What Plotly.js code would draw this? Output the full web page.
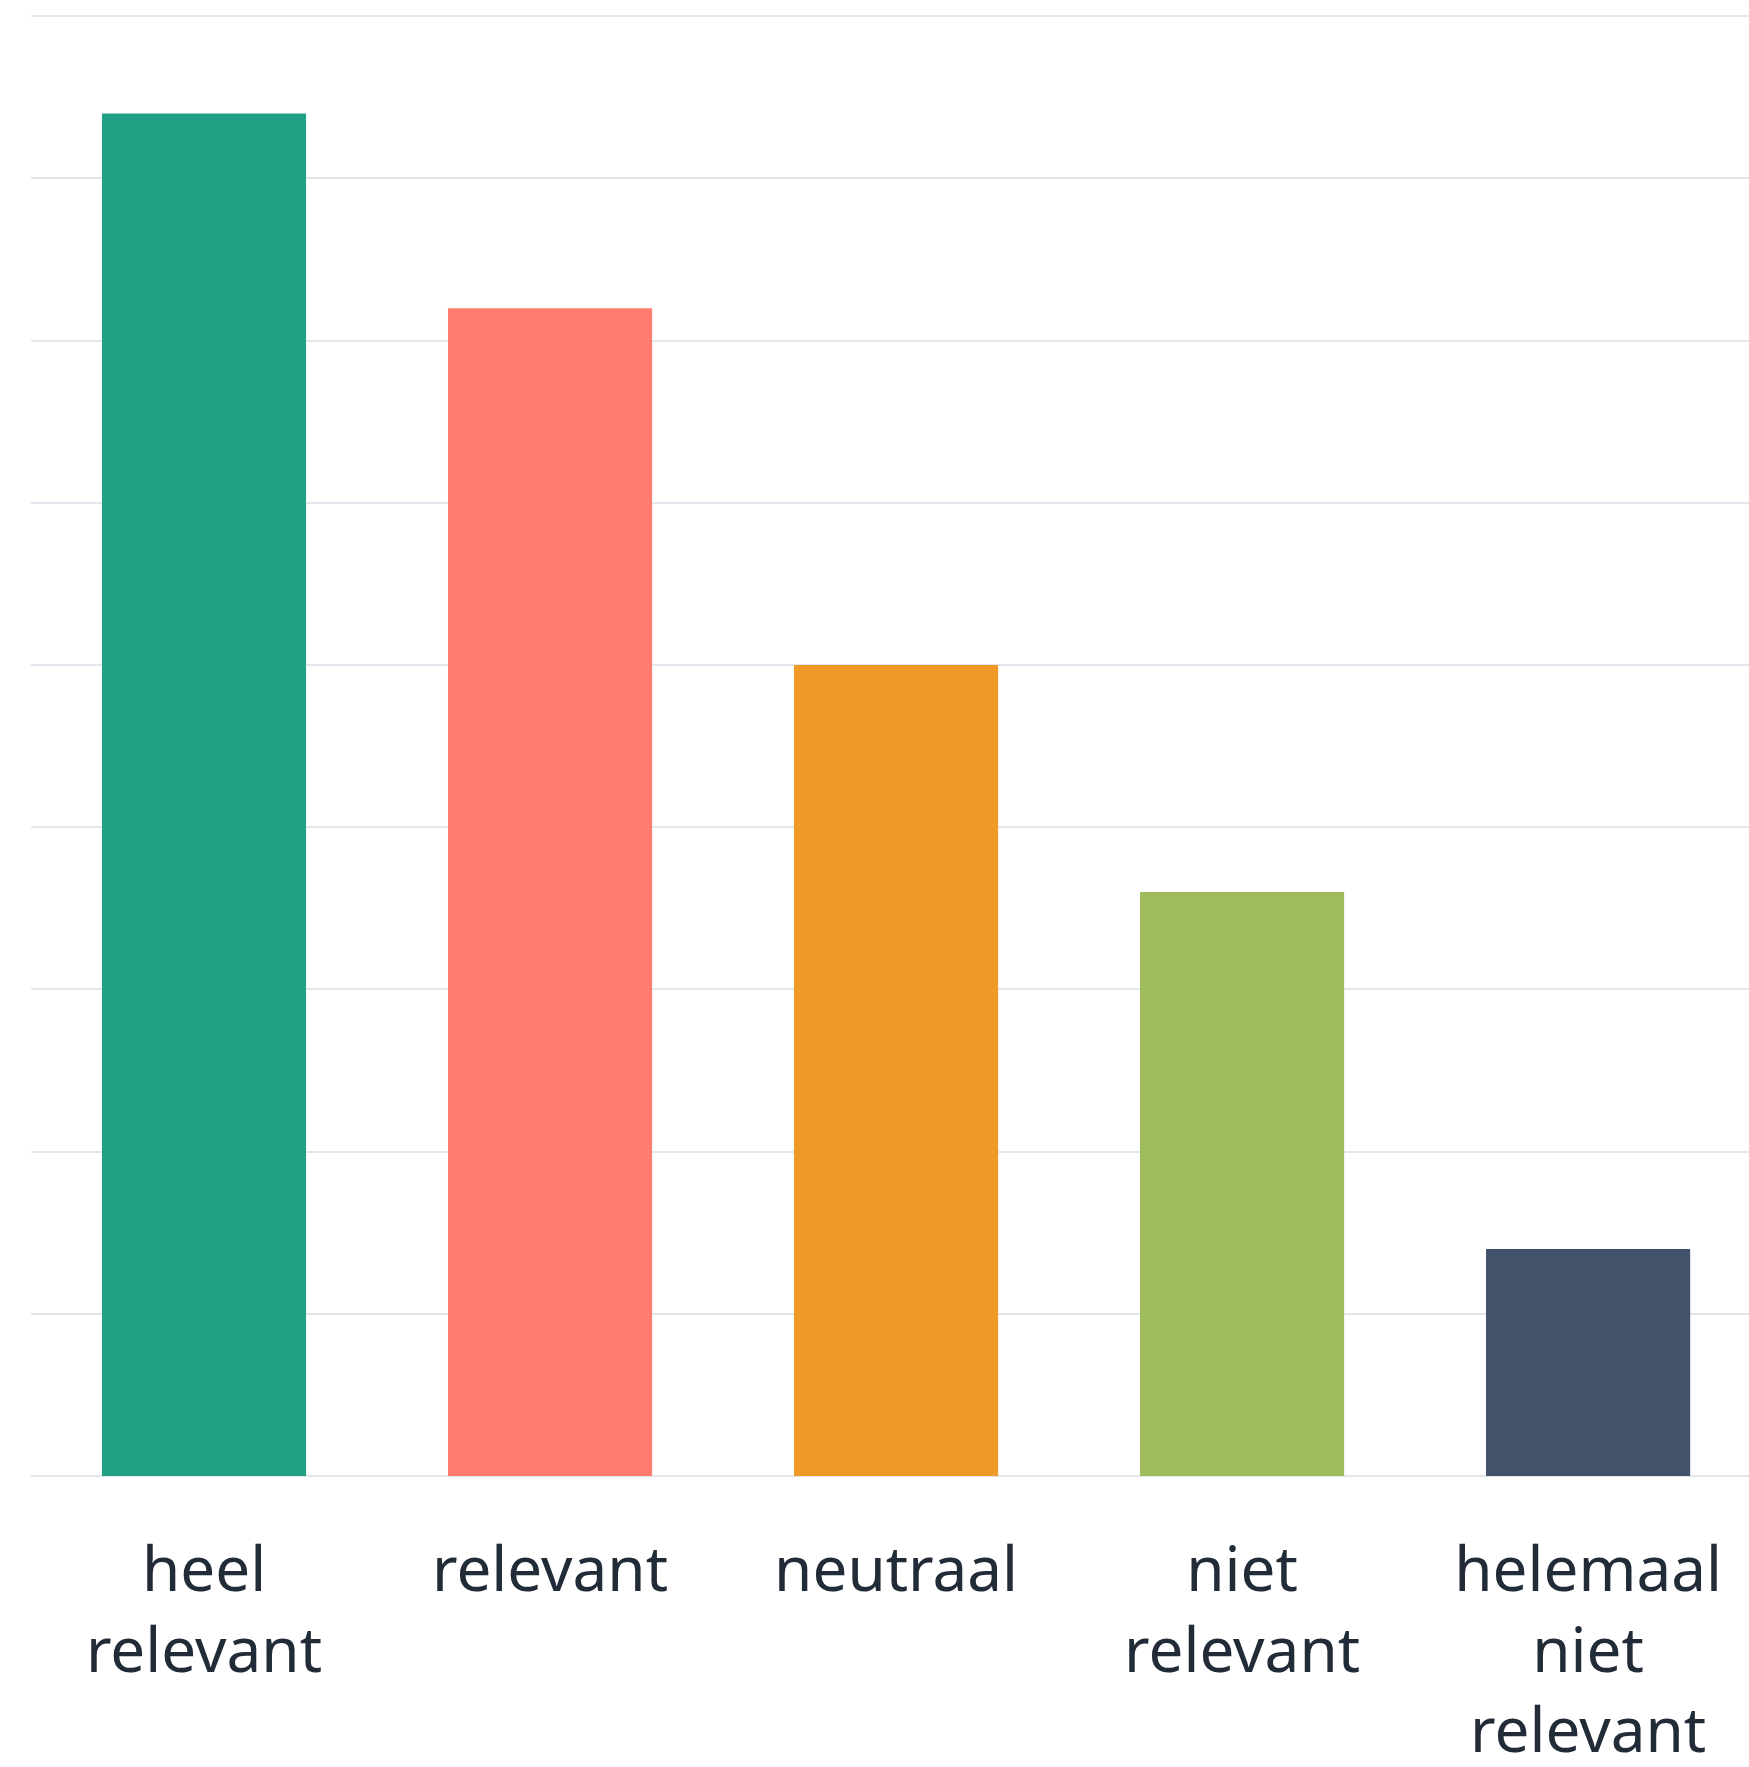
<!DOCTYPE html>
<html>
<head>
<meta charset="utf-8">
<script src="https://cdn.plot.ly/plotly-3.0.1.min.js"></script>
<style>html,body{margin:0;padding:0;background:#fff;}#chart{width:1749px;height:1767px;}</style>
</head>
<body>
<div id="chart"></div>
<script>
const categories = ["heel<br>relevant", "relevant", "neutraal", "niet<br>relevant", "helemaal<br>niet<br>relevant"];
const counts = [42, 36, 25, 18, 7];
const barColors = ["#20a185", "#ff7c6e", "#ef9927", "#9ebc5d", "#42526a"];

const trace = {
  type: "bar",
  x: categories,
  y: counts,
  marker: {color: barColors},
  hoverinfo: "none"
};

const layout = {
  width: 1749,
  height: 1767,
  margin: {l: 31, r: 0, t: 13, b: 291},
  paper_bgcolor: "#ffffff",
  plot_bgcolor: "#ffffff",
  bargap: 0.41,
  showlegend: false,
  font: {family: "Noto Sans, Open Sans, sans-serif", color: "#222b38"},
  xaxis: {
    type: "category",
    range: [-0.5, 4.465],
    showgrid: false,
    showline: false,
    zeroline: false,
    ticks: "",
    tickfont: {size: 62, color: "#222b38", family: "Noto Sans, Open Sans, sans-serif"},
    ticklabelstandoff: 52
  },
  yaxis: {
    range: [0, 45.1],
    dtick: 5,
    tick0: 0,
    showticklabels: false,
    showgrid: true,
    gridcolor: "#e3e6ec",
    gridwidth: 2,
    zeroline: true,
    zerolinecolor: "#e3e6ec",
    zerolinewidth: 2,
    showline: false,
    ticks: ""
  }
};

Plotly.newPlot("chart", [trace], layout, {displayModeBar: false, staticPlot: true});
</script>
</body>
</html>
